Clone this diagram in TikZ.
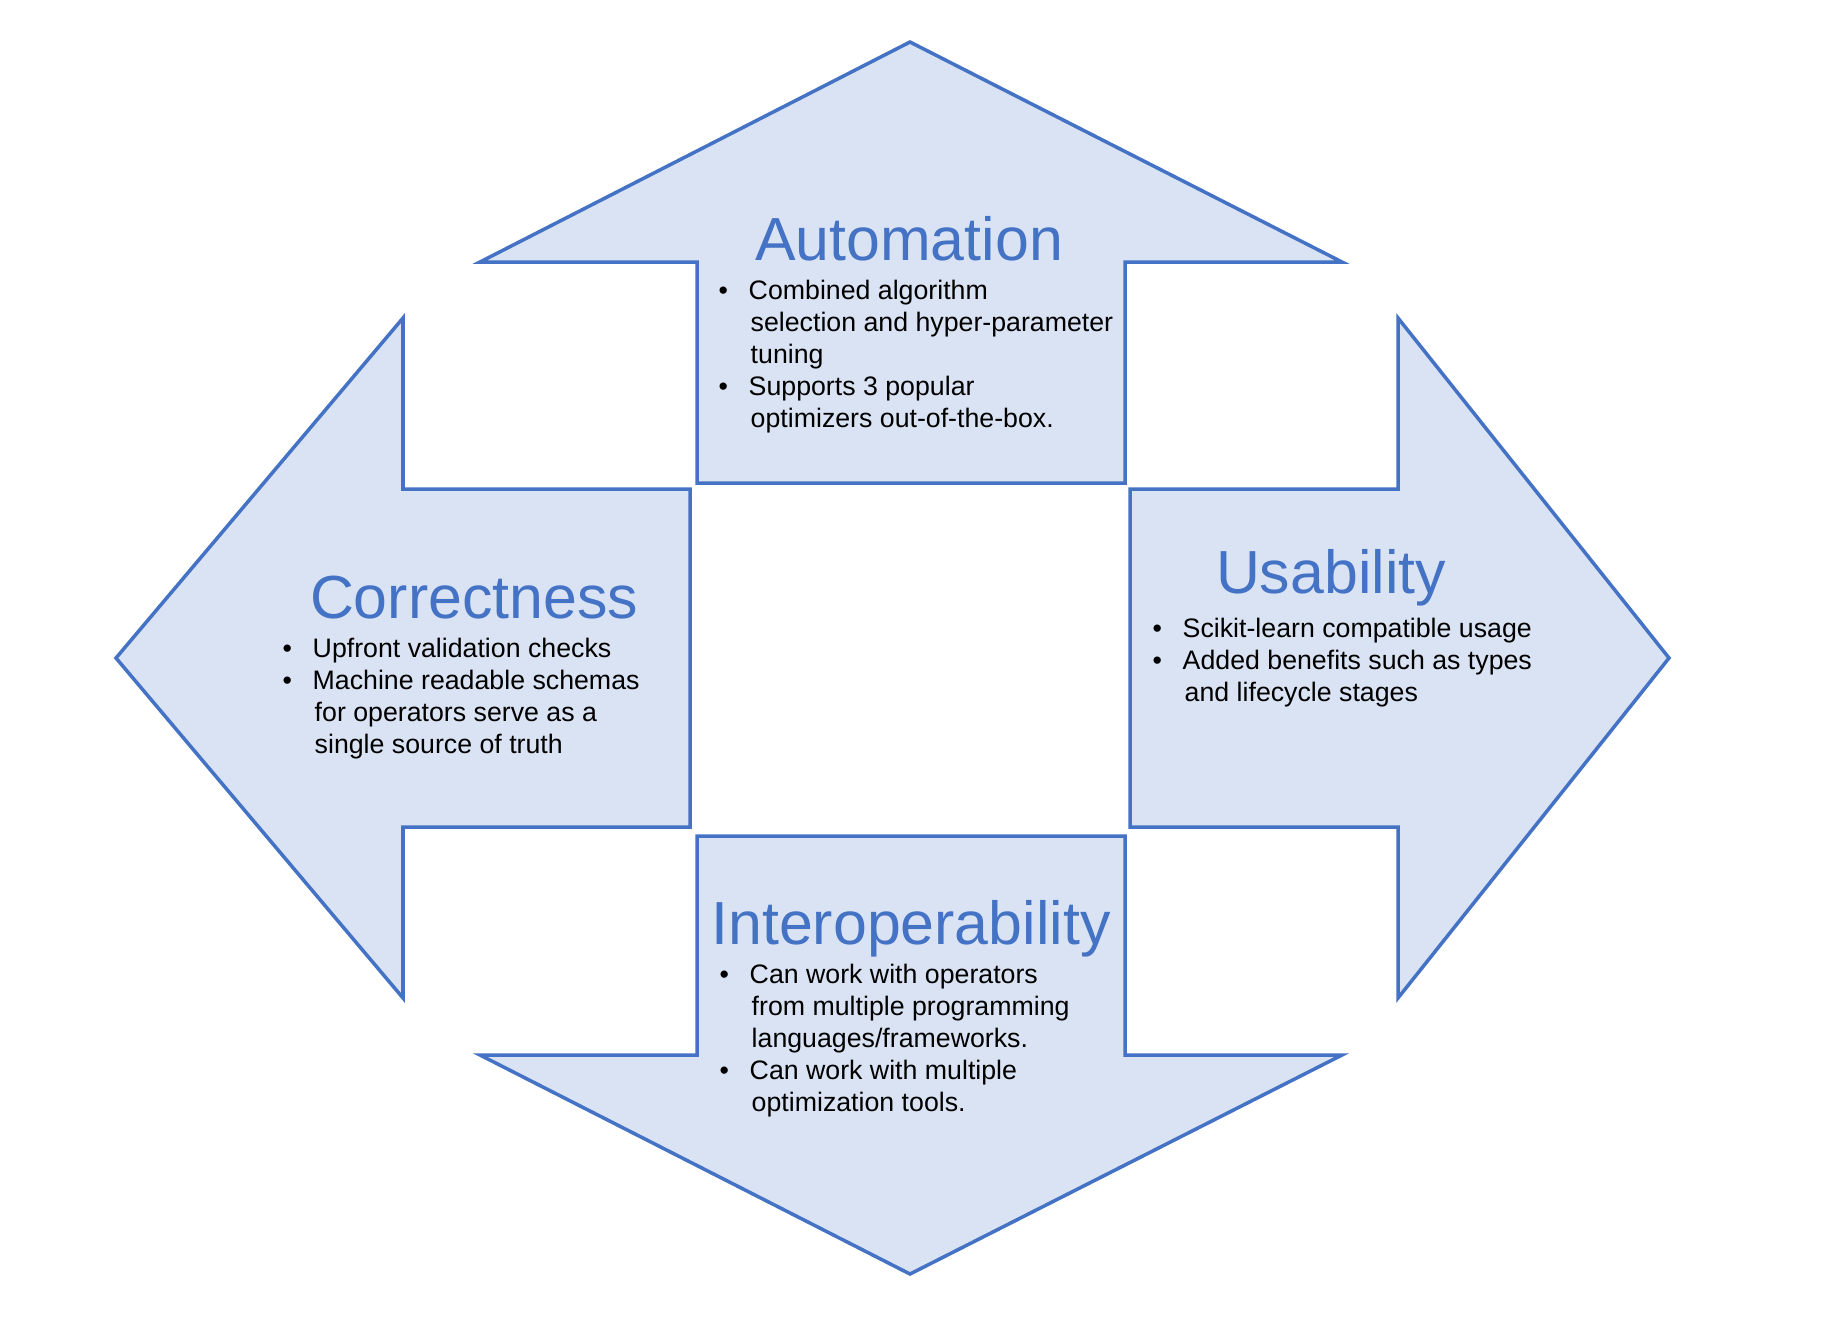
\documentclass[tikz,border=0pt]{standalone}
\usepackage{fontspec}
\setmainfont{Liberation Sans}

\definecolor{accentblue}{HTML}{4472C4}
\definecolor{paleblue}{HTML}{DAE3F3}

\tikzset{
  bigarrow/.style={draw=accentblue, fill=paleblue, line width=1pt, line join=miter},
  heading/.style={text=accentblue, font=\fontsize{17.3}{20}\selectfont, anchor=base, inner sep=0pt},
  points/.style={font=\fontsize{7.6}{9.1}\selectfont, anchor=base west, inner sep=0pt}
}

\newcommand{\pointlist}[1]{\begin{tabular}[t]{@{}p{0.30cm}@{}l@{}}#1\end{tabular}}
\newcommand{\cont}{\hspace*{0.02cm}}

\begin{document}
\begin{tikzpicture}[x=0.01cm, y=-0.01cm]
  \useasboundingbox (0,0) rectangle (1830,1320);

  % the four arrows
  \draw[bigarrow] (910,42) -- (1342,262) -- (1125,262) -- (1125,483)
    -- (697,483) -- (697,262) -- (480,262) -- cycle;
  \draw[bigarrow] (116,658) -- (403,318) -- (403,489) -- (690,489)
    -- (690,827) -- (403,827) -- (403,998) -- cycle;
  \draw[bigarrow] (1669,658) -- (1398,318) -- (1398,489) -- (1130,489)
    -- (1130,827) -- (1398,827) -- (1398,998) -- cycle;
  \draw[bigarrow] (910,1274) -- (1342,1055) -- (1125,1055) -- (1125,836)
    -- (697,836) -- (697,1055) -- (480,1055) -- cycle;

  % top
  \node[heading] (autoTitle) at (909,260) {Automation};
  \node[points] (autoPoints) at (718,299) {\pointlist{
    \textbullet & Combined algorithm\\
                & \cont selection and hyper-parameter\\
                & \cont tuning\\
    \textbullet & Supports 3 popular\\
                & \cont optimizers out-of-the-box.}};

  % left
  \node[heading] (corrTitle) at (474,618) {Correctness};
  \node[points] (corrPoints) at (282,657) {\pointlist{
    \textbullet & Upfront validation checks\\
    \textbullet & Machine readable schemas\\
                & \cont for operators serve as a\\
                & \cont single source of truth}};

  % right
  \node[heading] (useTitle) at (1331,593) {Usability};
  \node[points] (usePoints) at (1152,637) {\pointlist{
    \textbullet & Scikit-learn compatible usage\\
    \textbullet & Added benefits such as types\\
                & \cont and lifecycle stages}};

  % bottom
  \node[heading] (interTitle) at (911,944) {Interoperability};
  \node[points] (interPoints) at (719,983) {\pointlist{
    \textbullet & Can work with operators\\
                & \cont from multiple programming\\
                & \cont languages/frameworks.\\
    \textbullet & Can work with multiple\\
                & \cont optimization tools.}};
\end{tikzpicture}
\end{document}
